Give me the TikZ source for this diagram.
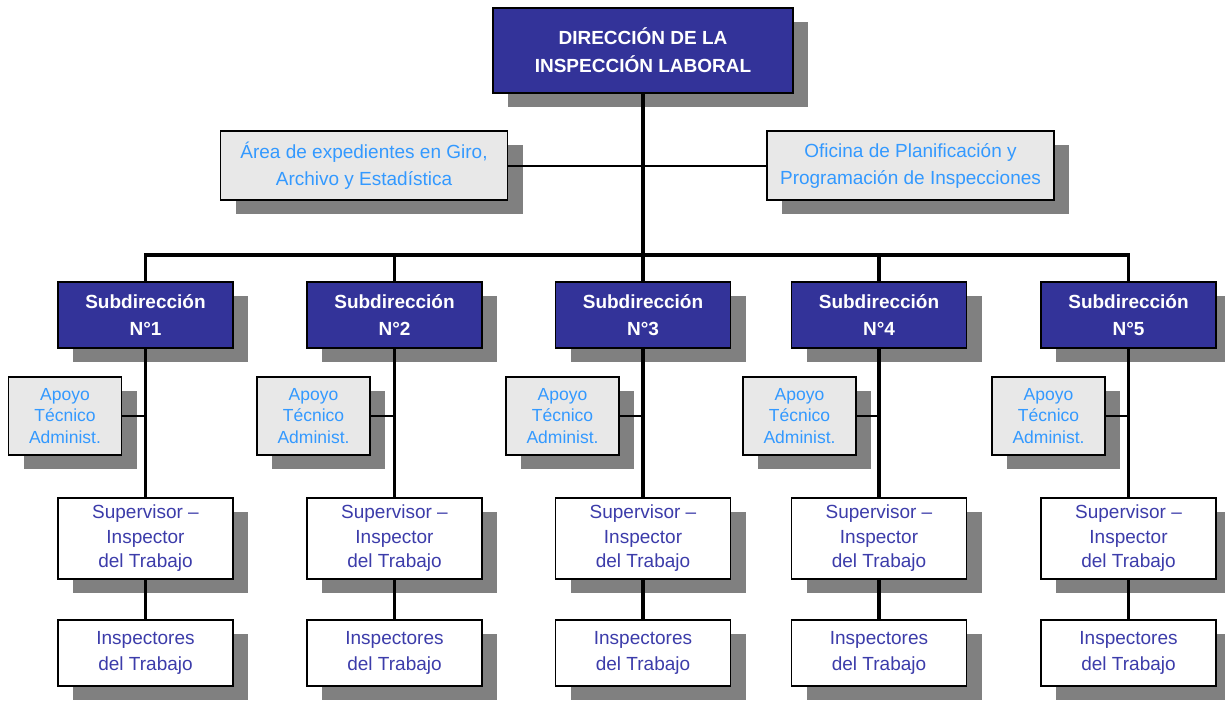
\documentclass[tikz,border=0pt]{standalone}
\usepackage{fontspec}
\setmainfont{Liberation Sans}
\usetikzlibrary{shadows}
\definecolor{dirblue}{HTML}{333399}
\definecolor{boxgray}{HTML}{E8E8E8}
\definecolor{shadegray}{HTML}{808080}
\definecolor{textsky}{HTML}{3399FF}
\definecolor{textnavy}{HTML}{3C3CAA}
\tikzset{
  box/.style={draw=black, line width=1.5pt, inner sep=0pt, align=center,
    drop shadow={shadow xshift=15pt, shadow yshift=-14pt, fill=shadegray, opacity=1}},
  dirbox/.style={box, fill=dirblue, text=white, minimum width=300pt, minimum height=85pt,
    font=\bfseries\fontsize{19}{28}\selectfont},
  sidebox/.style={box, fill=boxgray, text=textsky, minimum width=287pt, minimum height=69pt,
    font=\fontsize{19}{27}\selectfont},
  subbox/.style={box, fill=dirblue, text=white, minimum width=175pt, minimum height=66pt,
    font=\bfseries\fontsize{19}{27}\selectfont},
  apoyobox/.style={box, fill=boxgray, text=textsky, minimum width=113pt, minimum height=78pt,
    font=\fontsize{17.5}{21.5}\selectfont},
  supbox/.style={box, fill=white, text=textnavy, minimum width=175pt, minimum height=81pt,
    font=\fontsize{19}{24.5}\selectfont},
  inspbox/.style={box, fill=white, text=textnavy, minimum width=175pt, minimum height=66pt,
    font=\fontsize{19}{26}\selectfont},
  trunk/.style={draw=black, line width=3.5pt},
  link/.style={draw=black, line width=2pt}
}
\begin{document}
\begin{tikzpicture}[x=1pt, y=-1pt]
  \useasboundingbox (0,0) rectangle (1225,701);

  \node[dirbox] (dir) at (643,50.5) {DIRECCIÓN DE LA\\INSPECCIÓN LABORAL};
  \node[sidebox] (area) at (364,165.5) {Área de expedientes en Giro,\\Archivo y Estadística};
  \node[sidebox] (ofic) at (910.5,165.5) {Oficina de Planificación y\\Programación de Inspecciones};

  \foreach \i/\cx/\ax in {1/145.5/65, 2/394.5/313.5, 3/643/562.5, 4/879/799.5, 5/1128.5/1048.5}
  {
    \node[subbox] (sub\i) at (\cx,315) {Subdirección\\N°\i};
    \node[apoyobox] (apo\i) at (\ax,416) {Apoyo\\Técnico\\Administ.};
    \node[supbox] (sup\i) at (\cx,538.5) {Supervisor --\\Inspector\\del Trabajo};
    \node[inspbox] (insp\i) at (\cx,653) {Inspectores\\del Trabajo};
  }

  \coordinate (bus) at (643,255);
  \draw[link] (area.east) -- (ofic.west);
  \draw[trunk] (dir) -- (bus);
  \draw[trunk, line cap=rect] (sub1.north |- bus) -- (sub5.north |- bus);

  \foreach \i in {1,...,5}
  {
    \draw[trunk] (sub\i.north |- bus) -- (sub\i.north);
    \draw[trunk] (sub\i.south) -- (sup\i.north);
    \draw[trunk] (sup\i.south) -- (insp\i.north);
    \draw[link] (apo\i.east) -- (apo\i.east -| sub\i.south);
  }
\end{tikzpicture}
\end{document}
